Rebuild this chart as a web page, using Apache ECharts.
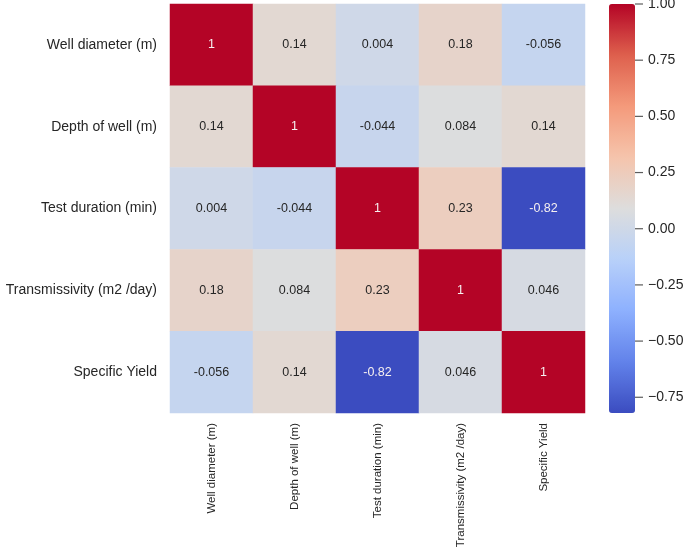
<!DOCTYPE html>
<html>
<head>
<meta charset="utf-8">
<script src="https://cdn.jsdelivr.net/npm/echarts@6/dist/echarts.min.js"></script>
<style>html,body{margin:0;padding:0;background:#fff;}#c{width:685px;height:552px;}</style>
</head>
<body>
<div id="c"></div>
<script>
const variables = ['Well diameter (m)', 'Depth of well (m)', 'Test duration (min)', 'Transmissivity (m2 /day)', 'Specific Yield'];
const row0 = [1, 0.14, 0.004, 0.18, -0.056];
const row1 = [0.14, 1, -0.044, 0.084, 0.14];
const row2 = [0.004, -0.044, 1, 0.23, -0.82];
const row3 = [0.18, 0.084, 0.23, 1, 0.046];
const row4 = [-0.056, 0.14, -0.82, 0.046, 1];
const colorbarTicks = [-0.75, -0.5, -0.25, 0, 0.25, 0.5, 0.75, 1.0];
const vmin = -0.82, vmax = 1;

const rows = [row0, row1, row2, row3, row4];
const data = [];
rows.forEach((r, i) => r.forEach((v, j) => {
  const dark = v > 0.6 || v < -0.5;
  data.push({value: [j, i, v], label: {color: dark ? '#f6f0f0' : '#262626'}});
}));

const coolwarm = ['#3b4cc0', '#6282ea', '#8db0fe', '#b8d0f9', '#dddddd', '#f5c4ac', '#f49a7b', '#de604d', '#b40426'];
const FONT = 'Liberation Sans, Arial, sans-serif';

const chart = echarts.init(document.getElementById('c'), null, {renderer: 'canvas'});
chart.setOption({
  animation: false,
  backgroundColor: '#fff',
  grid: [
    {left: 170, top: 4, width: 415, height: 409, containLabel: false, outerBoundsMode: 'none'},
    {left: 609, top: 4, width: 26, height: 409, containLabel: false, outerBoundsMode: 'none'}
  ],
  xAxis: [
    {type: 'category', gridIndex: 0, data: variables, position: 'bottom',
     axisLine: {show: false}, axisTick: {show: false}, splitLine: {show: false},
     axisLabel: {rotate: 90, margin: 10, fontSize: 11.5, color: '#262626', fontFamily: FONT, interval: 0}},
    {type: 'value', gridIndex: 1, show: false, min: 0, max: 1}
  ],
  yAxis: [
    {type: 'category', gridIndex: 0, data: variables, inverse: true,
     axisLine: {show: false}, axisTick: {show: false}, splitLine: {show: false},
     axisLabel: {margin: 13, fontSize: 14, color: '#262626', fontFamily: FONT, interval: 0}},
    {type: 'value', gridIndex: 1, position: 'right', min: vmin, max: vmax,
     axisLine: {show: false}, splitLine: {show: false},
     axisTick: {show: false},
     axisLabel: {show: true, margin: 13, fontSize: 14, color: '#262626', fontFamily: FONT, customValues: colorbarTicks,
       formatter: v => (v < 0 ? '\u2212' : '') + Math.abs(v).toFixed(2)}}
  ],
  visualMap: {
    type: 'continuous', min: vmin, max: vmax, seriesIndex: 0, calculable: false,
    orient: 'vertical', left: 609, top: 4, itemWidth: 26, itemHeight: 409, padding: 0,
    text: null, showLabel: false, inRange: {color: coolwarm}
  },
  series: [
    {type: 'heatmap', xAxisIndex: 0, yAxisIndex: 0, data: data,
     label: {show: true, fontSize: 12.5, fontFamily: FONT,
       formatter: p => String(p.value[2])},
     itemStyle: {borderWidth: 0},
     emphasis: {disabled: true}},
    {type: 'scatter', xAxisIndex: 1, yAxisIndex: 1, silent: true, clip: false,
     data: colorbarTicks.map(t => [1, t]),
     symbol: 'rect', symbolSize: [8, 1.2], symbolOffset: [4, 0],
     itemStyle: {color: '#333333'}}
  ]
});
</script>
</body>
</html>
